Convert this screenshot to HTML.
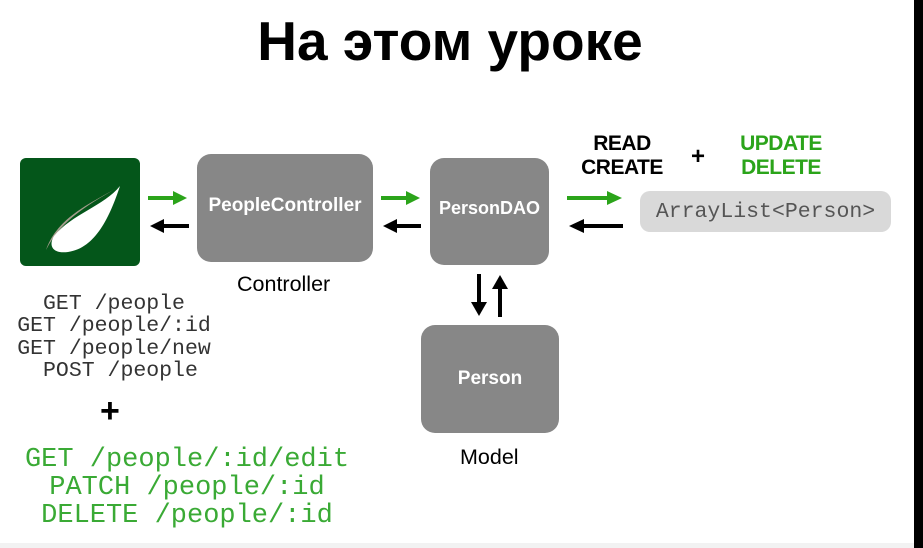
<!DOCTYPE html>
<html><head><meta charset="utf-8"><style>
*{margin:0;padding:0}
body{width:923px;height:548px;background:#fff;position:relative;overflow:hidden;font-family:"Liberation Sans",Arial,sans-serif}
.a{position:absolute}
.box{position:absolute;background:#878787;border-radius:14px;color:#fff;font-weight:bold;font-size:19px;display:flex;align-items:center;justify-content:center}
.t{position:absolute;white-space:nowrap}
.m{font-family:"Liberation Mono",monospace;position:absolute;white-space:nowrap;text-align:center}
</style></head><body>
<div class="t" style="left:0;width:900px;top:9px;text-align:center;font-size:55px;font-weight:bold;color:#000">На этом уроке</div>

<div class="a" style="left:20px;top:158px;width:120px;height:108px;background:#04561a;border-radius:6px"></div>
<svg class="a" style="left:20px;top:158px" width="120" height="108">
<path d="M100 28 C72 45 38 58 26 92 C42 60 72 45 100 28Z" fill="#a49c8c"/>
<path d="M100 28 C90 58 76 90 48 94 C33 96 28 88 34 78 C52 56 84 48 100 28Z" fill="#fff"/>
</svg>

<div class="box" style="left:197px;top:154px;width:176px;height:108px;padding-bottom:4px;box-sizing:border-box">PeopleController</div>
<div class="box" style="left:430px;top:158px;width:119px;height:107px;font-size:18px;padding-bottom:6px;box-sizing:border-box">PersonDAO</div>
<div class="box" style="left:421px;top:325px;width:138px;height:108px;font-size:19px">Person</div>

<div class="a" style="left:640px;top:191px;width:251px;height:41px;background:#d9d9d9;border-radius:10px;font-family:'Liberation Mono',monospace;font-size:21.5px;color:#555;display:flex;align-items:center;justify-content:center">ArrayList&lt;Person&gt;</div>

<svg class="a" style="left:0;top:0" width="923" height="548">
<g stroke-width="4">
<line x1="148" y1="198" x2="175" y2="198" stroke="#2ba41a"/><polygon points="173,191 187,198 173,205" fill="#2ba41a"/>
<line x1="162" y1="226" x2="189" y2="226" stroke="#000"/><polygon points="164,219 150,226 164,233" fill="#000"/>
<line x1="381" y1="198" x2="408" y2="198" stroke="#2ba41a"/><polygon points="406,191 420,198 406,205" fill="#2ba41a"/>
<line x1="395" y1="226" x2="421" y2="226" stroke="#000"/><polygon points="397,219 383,226 397,233" fill="#000"/>
<line x1="567" y1="198" x2="609" y2="198" stroke="#2ba41a"/><polygon points="607,191 622,198 607,205" fill="#2ba41a"/>
<line x1="582" y1="226" x2="623" y2="226" stroke="#000"/><polygon points="584,219 569,226 584,233" fill="#000"/>
<line x1="479" y1="274" x2="479" y2="304" stroke="#000"/><polygon points="471,302 479,316 487,302" fill="#000"/>
<line x1="500" y1="288" x2="500" y2="317" stroke="#000"/><polygon points="492,289 500,275 508,289" fill="#000"/>
</g>
</svg>

<div class="t" style="left:237px;top:272px;font-size:21.5px">Controller</div>
<div class="t" style="left:460px;top:445px;font-size:21.5px">Model</div>

<div class="t" style="left:576px;top:132px;font-size:21px;font-weight:bold;line-height:24px;text-align:center;width:92px;letter-spacing:-0.5px">READ<br>CREATE</div>
<div class="t" style="left:691px;top:143px;font-size:24px;font-weight:bold">+</div>
<div class="t" style="left:733px;top:132px;font-size:21px;font-weight:bold;line-height:24px;color:#2ba41a;text-align:center;width:96px;letter-spacing:-0.5px">UPDATE<br>DELETE</div>

<div class="m" style="left:0;width:228px;top:293px;font-size:21.5px;line-height:22.3px;color:#333">GET /people<br>GET /people/:id<br>GET /people/new<br>&nbsp;POST /people</div>
<div class="t" style="left:100px;top:392px;font-size:34px;font-weight:bold">+</div>
<div class="m" style="left:0;width:374px;top:446px;font-size:27px;line-height:28px;color:#3aaa35">GET /people/:id/edit<br>PATCH /people/:id<br>DELETE /people/:id</div>

<div class="a" style="left:914px;top:0;width:9px;height:548px;background:#000"></div>
<div class="a" style="left:0;top:543px;width:914px;height:5px;background:#f2f2f2"></div>
</body></html>
